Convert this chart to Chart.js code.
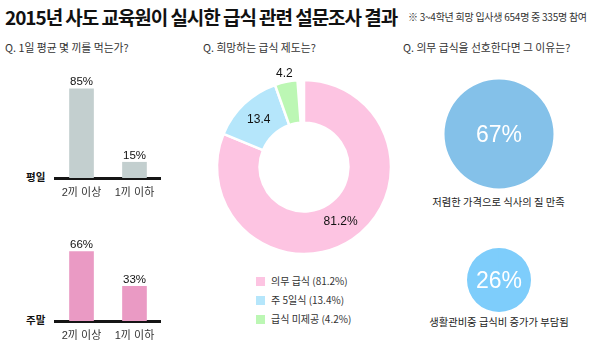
<!DOCTYPE html>
<html>
<head>
<meta charset="utf-8">
<script src="https://cdn.jsdelivr.net/npm/chart.js@4.4.1/dist/chart.umd.min.js"></script>
<style>
  html, body { margin: 0; padding: 0; background: #fff; }
  #wrap { position: relative; width: 600px; height: 355px; overflow: hidden; background: #fff;
          font-family: 'Noto Sans CJK KR', 'Liberation Sans', sans-serif; color: #222; }
  .abs { position: absolute; white-space: nowrap; line-height: 1; }
  canvas { position: absolute; }
  #title { left: 5px; top: 7px; font-size: 19px; font-weight: bold; letter-spacing: -1.05px; color: #111; }
  #note { left: 408px; top: 12px; font-size: 10px; color: #333; letter-spacing: -0.25px; }
  .q { top: 42px; font-size: 10.8px; color: #333; }
  .side { font-size: 10.5px; font-weight: bold; color: #111; }
  .leg { font-size: 10px; color: #333; font-family: 'Noto Sans CJK KR', 'Liberation Sans', sans-serif; }
  .legbox { position: absolute; width: 9px; height: 9px; }
  .reason { font-size: 10.3px; color: #222; transform: translateX(-50%); }
</style>
</head>
<body>
<div id="wrap">
  <div id="title" class="abs">2015년 사도 교육원이 실시한 급식 관련 설문조사 결과</div>
  <div id="note" class="abs">※ 3~4학년 희망 입사생 654명 중 335명 참여</div>
  <div class="abs q" style="left:5px">Q. 1일 평균 몇 끼를 먹는가?</div>
  <div class="abs q" style="left:203px">Q. 희망하는 급식 제도는?</div>
  <div class="abs q" style="left:403px">Q. 의무 급식을 선호한다면 그 이유는?</div>

  <div id="sideA" class="abs side" style="left:26px; top:172px"></div>
  <div id="sideB" class="abs side" style="left:26px; top:315px"></div>

  <canvas id="barA" width="108" height="150" style="left:54px; top:50px; width:108px; height:150px"></canvas>
  <canvas id="barB" width="108" height="150" style="left:54px; top:193px; width:108px; height:150px"></canvas>
  <canvas id="donut" width="200" height="200" style="left:204px; top:67px; width:200px; height:200px"></canvas>
  <div id="legend"></div>

  <canvas id="circA" width="112" height="112" style="left:443px; top:78px; width:112px; height:112px"></canvas>
  <canvas id="circB" width="68" height="68" style="left:465px; top:246px; width:68px; height:68px"></canvas>
  <div id="reasonA" class="abs reason" style="left:498.5px; top:197px"></div>
  <div id="reasonB" class="abs reason" style="left:499px; top:317px"></div>
</div>

<script>
// ---------- data ----------
const barCategories = ['2끼 이상', '1끼 이하'];
const weekdayName = '평일';
const weekdayValues = [85, 15];
const weekendName = '주말';
const weekendValues = [66, 33];

const planLabels = ['의무 급식', '주 5일식', '급식 미제공'];
const planValues = [81.2, 13.4, 4.2];

const reasonLabels = ['저렴한 가격으로 식사의 질 만족', '생활관비중 급식비 증가가 부담됨'];
const reasonValues = [67, 26];

// ---------- styles ----------
const MIXED = "'Liberation Sans', 'Noto Sans CJK KR', sans-serif";
const weekdayColor = '#c3cfcf';
const weekendColor = '#ea9ac4';
const planColors = ['#fdc4e2', '#b5e6fb', '#bcf7b4'];
const reasonColors = ['#84c1e9', '#7ecdfb'];

Chart.defaults.animation = false;
Chart.defaults.font.family = MIXED;

// value labels on top of bars
const barValuePlugin = {
  id: 'barValues',
  afterDatasetsDraw(chart) {
    const ctx = chart.ctx;
    const meta = chart.getDatasetMeta(0);
    const vals = chart.data.datasets[0].data;
    ctx.save();
    ctx.font = '11.5px ' + MIXED;
    ctx.fillStyle = '#111';
    ctx.textAlign = 'center';
    ctx.textBaseline = 'bottom';
    meta.data.forEach((bar, i) => {
      ctx.fillText(vals[i] + '%', bar.x, bar.y - 1);
    });
    ctx.restore();
  }
};

function makeBar(id, values, color) {
  return new Chart(document.getElementById(id), {
    type: 'bar',
    data: {
      labels: barCategories,
      datasets: [{ data: values, backgroundColor: color, barThickness: 24, borderWidth: 0 }]
    },
    options: {
      responsive: false,
      devicePixelRatio: 1,
      layout: { padding: { top: 23, left: 0, right: 0, bottom: 0 } },
      plugins: { legend: { display: false }, tooltip: { enabled: false } },
      scales: {
        x: {
          grid: { display: false, drawTicks: false },
          border: { display: true, color: '#151515', width: 3 },
          ticks: { color: '#333', font: { size: 11, family: MIXED }, padding: 8 },
          afterFit(s) { s.height = 22; }
        },
        y: { display: false, min: 0, max: 100 }
      }
    },
    plugins: [barValuePlugin]
  });
}

makeBar('barA', weekdayValues, weekdayColor);
makeBar('barB', weekendValues, weekendColor);
document.getElementById('sideA').textContent = weekdayName;
document.getElementById('sideB').textContent = weekendName;

// donut
const planTotal = planValues.reduce((a, b) => a + b, 0);
const donutLabelPlugin = {
  id: 'donutLabels',
  afterDatasetsDraw(chart) {
    const ctx = chart.ctx;
    const meta = chart.getDatasetMeta(0);
    const vals = chart.data.datasets[0].data;
    ctx.save();
    ctx.font = '12px ' + MIXED;
    ctx.fillStyle = '#111';
    ctx.textAlign = 'center';
    ctx.textBaseline = 'middle';
    meta.data.forEach((arc, i) => {
      const p = arc.getProps(['x', 'y', 'startAngle', 'endAngle', 'innerRadius', 'outerRadius']);
      const mid = (p.startAngle + p.endAngle) / 2;
      const small = vals[i] < 6;
      const r = small ? p.outerRadius + 8 : (p.innerRadius + p.outerRadius) / 2;
      const txt = i === 0 ? vals[i].toFixed(1) + '%' : vals[i].toFixed(1);
      ctx.fillText(txt, p.x + r * Math.cos(mid), p.y + r * Math.sin(mid));
    });
    ctx.restore();
  }
};

new Chart(document.getElementById('donut'), {
  type: 'doughnut',
  data: {
    labels: planLabels,
    datasets: [{ data: planValues, backgroundColor: planColors, borderColor: '#fff', borderWidth: 2.5 }]
  },
  options: {
    responsive: false,
    devicePixelRatio: 1,
    radius: 87,
    cutout: '51%',
    rotation: 0,
    circumference: planTotal / 100 * 360,
    plugins: { legend: { display: false }, tooltip: { enabled: false } }
  },
  plugins: [donutLabelPlugin]
});

// legend (HTML, built from the arrays)
const legend = document.getElementById('legend');
const legendTops = [281, 300, 319];
planLabels.forEach((lab, i) => {
  const box = document.createElement('div');
  box.className = 'legbox';
  box.style.left = '256px';
  box.style.top = (legendTops[i] - 4.5) + 'px';
  box.style.background = planColors[i];
  legend.appendChild(box);
  const t = document.createElement('div');
  t.className = 'abs leg';
  t.style.left = '271px';
  t.style.top = (legendTops[i] - 5) + 'px';
  t.textContent = lab + ' (' + planValues[i].toFixed(1) + '%)';
  legend.appendChild(t);
});

// reason circles
const circleTextPlugin = {
  id: 'circleText',
  afterDatasetsDraw(chart) {
    const ctx = chart.ctx;
    const arc = chart.getDatasetMeta(0).data[0];
    const v = chart.data.datasets[0].data[0];
    ctx.save();
    ctx.font = '23px ' + MIXED;
    ctx.fillStyle = '#fff';
    ctx.textAlign = 'center';
    ctx.textBaseline = 'middle';
    ctx.fillText(v + '%', arc.x, arc.y + 2);
    ctx.restore();
  }
};

function makeCircle(id, value, color, radius) {
  return new Chart(document.getElementById(id), {
    type: 'pie',
    data: { labels: [''], datasets: [{ data: [value], backgroundColor: color, borderWidth: 0 }] },
    options: {
      responsive: false,
      devicePixelRatio: 1,
      radius: radius,
      plugins: { legend: { display: false }, tooltip: { enabled: false } }
    },
    plugins: [circleTextPlugin]
  });
}
makeCircle('circA', reasonValues[0], reasonColors[0], 54.5);
makeCircle('circB', reasonValues[1], reasonColors[1], 32);
document.getElementById('reasonA').textContent = reasonLabels[0];
document.getElementById('reasonB').textContent = reasonLabels[1];
</script>
</body>
</html>
